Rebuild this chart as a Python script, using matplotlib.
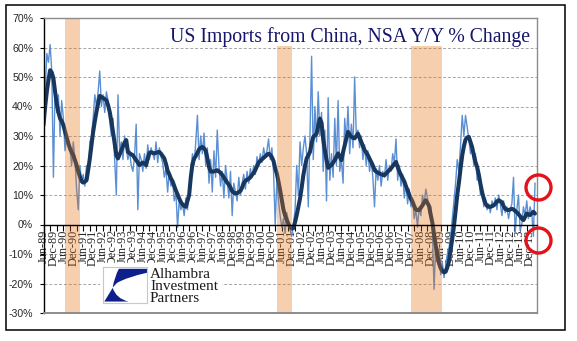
import matplotlib
matplotlib.use("Agg")
import matplotlib.pyplot as plt
import pandas as pd
from matplotlib.patches import Rectangle
from matplotlib.path import Path
from matplotlib.patches import PathPatch

W, H = 577, 341

# Monthly observations, Jun-1989 onwards
months = pd.period_range("1989-06", periods=298, freq="M")

# Year-over-year % change, not seasonally adjusted
imports_yoy = [
    33, 45, 58, 55, 61, 52, 16, 47, 38, 44, 30, 42, 36, 25, 30, 28, 26, 20, 28, 22,
    12, 5, 20, 14, 17, 13, 20, 18, 28, 30, 36, 44, 40, 45, 52, 40, 44, 38, 45, 42,
    35, 30, 36, 22, 10, 44, 25, 28, 22, 30, 26, 22, 25, 20, 18, 23, 34, 5, 24, 22,
    18, 24, 19, 27, 22, 26, 24, 22, 28, 21, 26, 23, 21, 16, 19, 11, 18, 13, 15, 8,
    11, -1, 8, 5, 7, 3, 9, 5, 12, 18, 24, 20, 28, 37, 22, 30, 24, 31, 20, 26,
    14, 22, 11, 25, 16, 32, 20, 13, 18, 9, 20, 15, 9, 18, 3, 14, 11, 8, 16, 10,
    14, 17, 12, 18, 14, 19, 16, 20, 17, 23, 20, 24, 21, 26, 23, 25, 29, 22, 26, 18,
    0, 15, 8, 3, -1, 2, -3, 4, 1, -2, -4, 0, 5, 20, 10, 28, 20, 26, 30, 24,
    6, 30, 57, 22, 40, 28, 45, 30, 38, 18, 32, 8, 43, 15, 24, 16, 36, 20, 42, 18,
    22, 14, 36, 28, 40, 24, 34, 26, 50, 30, 32, 26, 30, 22, 27, 20, 25, 18, 22, 16,
    6, 19, 15, 20, 13, 18, 16, 22, 15, 20, 18, 24, 21, 29, 15, 20, 13, 17, 9, 14,
    7, 12, 6, 9, 2, 5, -1, 6, 3, 10, 7, 12, 9, 4, 6, -2, -22, -6, -12, -8,
    -17, -13, -18, -14, -10, -8, -4, 2, 8, 14, 22, 18, 27, 37, 30, 37, 33, 29, 24, 27,
    20, 24, 15, 18, 10, 13, 6, 9, 5, 7, 4, 8, 6, 9, 5, 10, 7, 3, 8, 4,
    6, 2, 5, 7, 16, -3, 5, 10, -2, 0, 6, 3, 8, 2, 6, 4, -4, 14,
]

# Smoothed trend of the same series
imports_yoy_avg = [
    33.7, 40, 45, 49, 52.3, 51.5, 49.5, 45, 41, 38, 36, 35, 33.7, 31.5, 29.5, 27.5, 25.8, 24.5, 23.5, 21.8,
    20.1, 18, 16.2, 14.7, 14.2, 14.5, 15, 18.5, 22.4, 27, 31.4, 35, 38.2, 41, 43.6, 43.2, 42.9, 42.5, 42.1, 40.5,
    38.2, 35, 31.4, 27.5, 23.5, 22.4, 23.8, 25.2, 26.5, 27.8, 28.6, 24.6, 24.2, 23.8, 23.5, 22.6, 21.8, 21, 20.1, 20.6,
    21, 20.6, 20.1, 22.5, 24.3, 24.5, 24.3, 24.1, 24.3, 24.5, 24.6, 24, 23.2, 22.4, 20.5, 18.2, 17, 15.6, 14.6, 13,
    11.5, 10.2, 8.8, 7.6, 6.8, 6.3, 6, 8, 10, 16, 20.5, 22.3, 23.2, 24.3, 25.5, 26, 26.3, 25.8, 25, 22.5,
    19.5, 18, 17.9, 18, 18.2, 18.4, 18, 17.5, 16.8, 16, 15, 14.2, 13.5, 12.5, 11.3, 10.8, 10.5, 10.6, 11, 11.4,
    12.5, 14, 14.8, 15.2, 15.5, 16, 16.8, 17.5, 18.5, 19.8, 21, 21.6, 22.1, 22.6, 23.1, 23.6, 24, 23.6, 22.8, 21.5,
    19, 17.2, 14.5, 11.5, 8.2, 5, 3, 1.5, 0.2, -0.8, -1.4, -1.2, 0.8, 3.2, 6, 8.8, 12.5, 16.7, 19.8, 22.4,
    23.5, 24.6, 27.5, 29.7, 30.2, 30.8, 33.5, 35.9, 34.5, 29, 25.2, 22, 19.2, 19.8, 20.1, 21, 21.8, 23, 24.1, 23,
    21.8, 24.5, 26.9, 29.2, 31.4, 30.5, 29.7, 29.4, 29.2, 30, 30.8, 29.4, 28, 26.6, 25.2, 24.4, 23.5, 22.3, 21.2, 20,
    18.5, 17.9, 17.6, 17.3, 17, 16.8, 16.7, 17.3, 17.9, 18.5, 19, 19.8, 20.6, 21.2, 19.5, 18, 16.8, 15.7, 14.6, 13,
    11.6, 10, 8.7, 7.7, 6.2, 5, 4.9, 4.9, 5.7, 6.5, 7.5, 8.2, 7.3, 6.2, 3.2, 0.5, -3.5, -7.2, -10.5, -13.2,
    -14.8, -15.8, -16.2, -16, -14.5, -12.5, -8.5, -4.8, -0.5, 4.5, 10, 14.2, 19, 23.4, 26.5, 28.8, 29.5, 29.7, 28, 26.2,
    23.5, 21.2, 19.5, 17, 13.8, 11, 8.8, 7.2, 6.3, 6, 6, 6.2, 6.5, 7, 7.8, 8.2, 7.9, 7.5, 6.2, 5.3,
    5, 4.9, 5.1, 5.3, 5.1, 4.6, 4.1, 3.5, 2.8, 2, 1.5, 2.6, 3.7, 3.4, 3.2, 3.8, 4.3, 3.7,
]

# US recessions (first and last month)
recessions = [("1990-07", "1991-03"), ("2001-03", "2001-11"), ("2007-12", "2009-06")]

# Highlighted readings at the end of the series
highlights = [12.6, -5.2]

y_ticks = list(range(-30, 80, 10))
title = "US Imports from China, NSA Y/Y % Change"
logo_lines = ["Alhambra", "Investment", "Partners"]

SERIF = ["Liberation Serif", "DejaVu Serif"]
SANS = ["Liberation Sans", "DejaVu Sans"]


def fx(px):
    return px / W


def fy(py):
    return 1 - py / H


fig = plt.figure(figsize=(W / 100, H / 100), dpi=100)
fig.patch.set_facecolor("white")

ax_l, ax_r, ax_t, ax_b = 43.5, 537, 18, 313
ax = fig.add_axes([fx(ax_l), fy(ax_b), (ax_r - ax_l) / W, (ax_b - ax_t) / H])
ax.set_facecolor("white")


def ax_box(px0, py0, px1, py1):
    """Rectangle given in figure pixels, expressed in axes fractions."""
    w, h = ax_r - ax_l, ax_b - ax_t
    return ((px0 - ax_l) / w, (ax_b - py1) / h), (px1 - px0) / w, (py1 - py0) / h


x = list(range(len(months)))
idx = {str(p): i for i, p in enumerate(months)}

# gridlines
for v in y_ticks:
    if v in (-30, 0, 70):
        continue
    ax.axhline(v, color="#a6a6a6", lw=0.7, ls=(0, (3, 2)), zorder=1)

ax.plot(x, imports_yoy, color="#5b8fd4", lw=1.0, zorder=2, solid_joinstyle="round")
ax.plot(x, imports_yoy_avg, color="#17375e", lw=2.9, zorder=2.5,
        solid_joinstyle="round", solid_capstyle="round")

for start, end in recessions:
    ax.axvspan(idx[start] + 0.25, idx[end] + 1, color="#e36c09", alpha=0.32, lw=0, zorder=3)

ax.set_xlim(0, (ax_r - ax_l) / 1.655)
ax.set_ylim(-30, 70)

# white panels behind the title and the logo
for box in (ax_box(165, 18, 535, 46.3), ax_box(100, 263, 222, 307)):
    ax.add_patch(Rectangle(*box, transform=ax.transAxes, facecolor="white",
                           edgecolor="none", zorder=3.5))

# axes frame
ax.spines["left"].set_color("black")
ax.spines["left"].set_linewidth(1.0)
for s in ("top", "right"):
    ax.spines[s].set_color("#8c8c8c")
    ax.spines[s].set_linewidth(1.0)
    ax.spines[s].set_zorder(4)
ax.spines["bottom"].set_position(("data", 0))
ax.spines["bottom"].set_color("black")
ax.spines["bottom"].set_linewidth(1.0)
ax.spines["bottom"].set_zorder(4)
ax.axhline(-30, color="#8c8c8c", lw=1.4, clip_on=False, zorder=4)

ax.set_yticks(y_ticks)
ax.set_yticklabels([f"{v}%" for v in y_ticks], fontfamily=SANS, fontsize=7.6, color="#262626")
ax.tick_params(axis="y", length=3, width=0.8, direction="out", pad=4.5, color="black")

label_pos = list(range(0, len(months), 6))
ax.set_xticks(label_pos)
ax.set_xticklabels([months[i].strftime("%b-%y") for i in label_pos], rotation=90,
                   fontfamily=SERIF, fontsize=8.8, color="#262626")
ax.set_xticks(list(range(0, len(months), 4)), minor=True)
ax.xaxis.remove_overlapping_locs = False
ax.tick_params(axis="x", which="major", length=0, pad=3.5)
ax.tick_params(axis="x", which="minor", length=4, width=0.8, direction="out", color="black")
for lab in ax.get_xticklabels():
    lab.set_zorder(5)

# end-of-series highlights
for v in highlights:
    ax.plot([len(months) - 1 + 1.6], [v], marker="o", ms=18, mfc="none",
            mec="#e3131b", mew=2.4, clip_on=False, zorder=6)

fig.text(fx(170), fy(37.5), title, fontfamily=SERIF, fontsize=14.2, color="#15156b",
         ha="left", va="center", zorder=3)

# logo
lax = fig.add_axes([fx(103), fy(303), 44 / W, 36 / H], zorder=2)
lax.set_xlim(0, 1)
lax.set_ylim(0, 1)
lax.set_xticks([])
lax.set_yticks([])
for s in lax.spines.values():
    s.set_color("#c8c8c8")
    s.set_linewidth(0.8)
blue = "#0c1f8c"
upper = Path([(0.36, 0.95), (1.0, 0.95), (1.0, 0.84), (0.55, 0.72), (0.32, 0.56),
              (0.22, 0.43), (0.26, 0.72), (0.36, 0.95)],
             [Path.MOVETO, Path.LINETO, Path.LINETO, Path.CURVE3, Path.CURVE3,
              Path.LINETO, Path.CURVE3, Path.CURVE3])
lax.add_patch(PathPatch(upper, facecolor=blue, edgecolor="none"))
lower = Path([(0.03, 0.04), (0.58, 0.04), (0.30, 0.12), (0.22, 0.42), (0.03, 0.04)],
             [Path.MOVETO, Path.LINETO, Path.CURVE3, Path.CURVE3, Path.LINETO])
lax.add_patch(PathPatch(lower, facecolor=blue, edgecolor="none"))

for line, base in zip(logo_lines, (277.5, 290, 302)):
    fig.text(fx(150), fy(base), line, fontfamily=SERIF, fontsize=11, color="#1a1a1a",
             ha="left", va="baseline", zorder=3)

# outer frame
fig.add_artist(Rectangle((fx(6), fy(330)), fx(565) - fx(6), fy(5) - fy(330),
                         transform=fig.transFigure, facecolor="none", edgecolor="black",
                         lw=1.1, zorder=5))

fig.savefig("out.png", dpi=100, facecolor="white")
